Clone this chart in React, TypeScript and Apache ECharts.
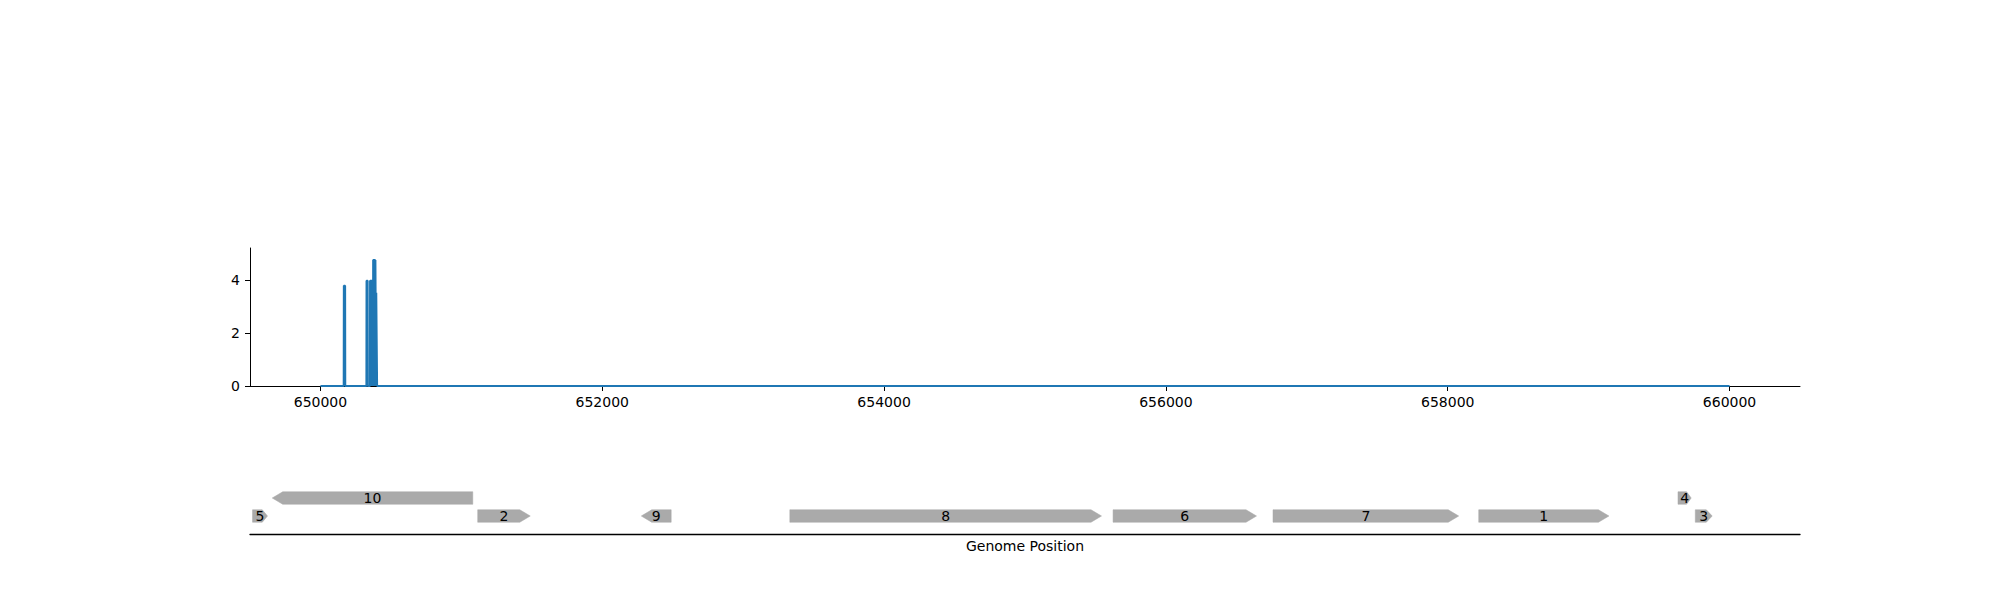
import React, { useEffect, useRef } from "react";
import * as echarts from "echarts";

// Coverage track (genome position, depth)
const coveragePos = [
  650000, 650165, 650166, 650175, 650176, 650326, 650327, 650335, 650336,
  650351, 650352, 650358, 650359, 650360, 650366, 650367, 650368, 650372,
  650373, 650374, 650380, 650381, 650382, 650388, 650389, 650390, 650394,
  650395, 650396, 650401, 650402, 660000,
];
const coverageVal = [
  0, 0, 3.79, 3.79, 0, 0, 3.98, 3.98, 0,
  0, 3.98, 3.98, 0, 3.98, 3.98, 0, 3.53, 3.53,
  0, 4.77, 4.77, 0, 4.77, 4.77, 0, 4.77, 4.77,
  0, 3.53, 3.53, 0, 0,
];

// Gene features
const geneLabels = ["5", "10", "2", "9", "8", "6", "7", "1", "4", "3"];
const geneStart = [649518, 649658, 651116, 652277, 653331, 655625, 656760, 658220, 659634, 659757];
const geneEnd = [649624, 651081, 651489, 652489, 655543, 656643, 658078, 659144, 659728, 659877];
const geneStrand = [1, -1, 1, -1, 1, 1, 1, 1, 1, 1];
const geneRow = [0, 1, 0, 0, 0, 0, 0, 0, 1, 0];

const xTicks = [650000, 652000, 654000, 656000, 658000, 660000];
const yTicks = [0, 2, 4];

const FONT = "DejaVu Sans";

export default function App() {
  const ref = useRef<HTMLDivElement>(null);
  useEffect(() => {
    if (!ref.current) return;
    const chart = echarts.init(ref.current, null, { renderer: "svg" });
    const lineData = coveragePos.map((p, i) => [p, coverageVal[i]]);
    const geneData = geneLabels.map((_, i) => [geneStart[i], geneEnd[i], geneRow[i], geneStrand[i]]);
    chart.setOption({
      animation: false,
      backgroundColor: "#ffffff",
      textStyle: { fontFamily: FONT },
      grid: [
        { left: 250, right: 200, top: 248, height: 138 },
        { left: 250, right: 200, top: 480, height: 54 },
      ],
      xAxis: [
        {
          type: "value",
          gridIndex: 0,
          min: 649500,
          max: 660500,
          splitLine: { show: false },
          axisLine: { show: true, onZero: false, lineStyle: { color: "#000", width: 1 } },
          axisTick: { show: true, length: 5, customValues: xTicks, lineStyle: { color: "#000" } },
          axisLabel: {
            customValues: xTicks,
            margin: 9,
            color: "#000",
            fontSize: 14,
            fontFamily: FONT,
            formatter: (v: number) => String(v),
          },
        },
        {
          type: "value",
          gridIndex: 1,
          min: 649500,
          max: 660500,
          splitLine: { show: false },
          axisLine: { show: true, onZero: false, lineStyle: { color: "#000", width: 1.3 } },
          axisTick: { show: false },
          axisLabel: { show: false },
          name: "Genome Position",
          nameLocation: "middle",
          nameGap: 5,
          nameTextStyle: { color: "#000", fontSize: 14, fontFamily: FONT },
        },
      ],
      yAxis: [
        {
          type: "value",
          gridIndex: 0,
          min: 0,
          max: 5.22,
          splitLine: { show: false },
          axisLine: { show: true, lineStyle: { color: "#000", width: 1 } },
          axisTick: { show: true, length: 5, customValues: yTicks, lineStyle: { color: "#000" } },
          axisLabel: { customValues: yTicks, margin: 10, color: "#000", fontSize: 14, fontFamily: FONT },
        },
        {
          type: "value",
          gridIndex: 1,
          min: -1,
          max: 2,
          show: false,
        },
      ],
      series: [
        {
          type: "line",
          xAxisIndex: 0,
          yAxisIndex: 0,
          data: lineData,
          showSymbol: false,
          symbol: "none",
          lineStyle: { color: "#1f77b4", width: 2 },
          z: 5,
        },
        {
          type: "custom",
          xAxisIndex: 1,
          yAxisIndex: 1,
          data: geneData,
          renderItem: (params: any, api: any) => {
            const s = api.value(0);
            const e = api.value(1);
            const row = api.value(2);
            const strand = api.value(3);
            const p1 = api.coord([s, row]);
            const p2 = api.coord([e, row]);
            const h = 12.5;
            const yc = p1[1];
            const len = p2[0] - p1[0];
            const head = Math.min(10.5, len * 0.35);
            let pts;
            if (strand > 0) {
              pts = [
                [p1[0], yc - h / 2],
                [p2[0] - head, yc - h / 2],
                [p2[0], yc],
                [p2[0] - head, yc + h / 2],
                [p1[0], yc + h / 2],
              ];
            } else {
              pts = [
                [p2[0], yc - h / 2],
                [p1[0] + head, yc - h / 2],
                [p1[0], yc],
                [p1[0] + head, yc + h / 2],
                [p2[0], yc + h / 2],
              ];
            }
            return {
              type: "group",
              children: [
                { type: "polygon", shape: { points: pts }, style: { fill: "#aaaaaa", stroke: "#a6a6a6", lineWidth: 0.5 } },
                {
                  type: "text",
                  x: (p1[0] + p2[0]) / 2,
                  y: yc,
                  style: {
                    text: geneLabels[params.dataIndex],
                    fill: "#000",
                    fontSize: 14,
                    fontFamily: FONT,
                    align: "center",
                    verticalAlign: "middle",
                  },
                },
              ],
            };
          },
        },
      ],
    });
    return () => chart.dispose();
  }, []);
  return (
    <div
      ref={ref}
      style={{ position: "fixed", left: 0, top: 0, width: 2000, height: 600, background: "#fff" }}
    />
  );
}
